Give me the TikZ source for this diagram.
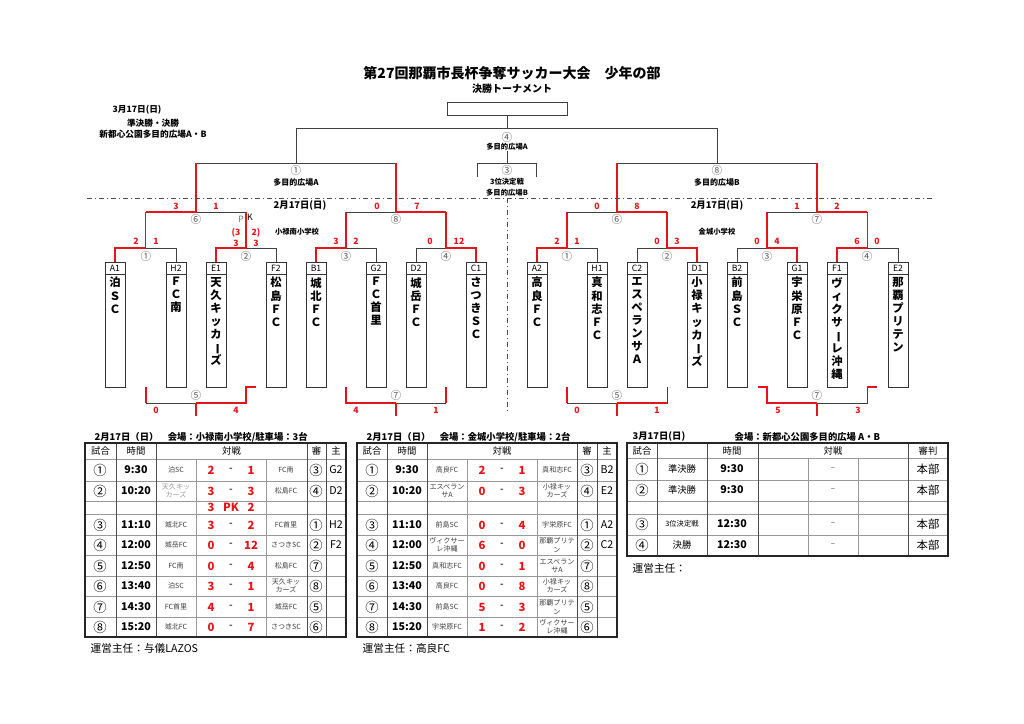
\documentclass[tikz,border=0pt]{standalone}
\usepackage{fontspec}
\setmainfont{Noto Sans CJK JP}
\definecolor{myred}{RGB}{228,20,28}
\newcommand\vb{\rotatebox[origin=c]{-90}{ー}}
\newcommand\fs[1]{\fontsize{#1}{#1}\selectfont}
\begin{document}
\begin{tikzpicture}[x=0.75pt,y=-0.75pt,
  bl/.style={line width=0.7pt,black!75},
  rd/.style={line width=1.3pt,myred},
  tbox/.style={draw,line width=0.6pt,black!80,minimum width=15pt,minimum height=93.75pt,inner sep=0,anchor=north},
  vtxt/.style={font=\fontsize{8.5}{9.8}\selectfont\bfseries,align=center,inner sep=0,anchor=north},
  lab/.style={font=\fs{6.5},inner sep=0},
  cir/.style={font=\fs{8},text=black!65,inner sep=0},
  sc/.style={font=\fs{6.5}\bfseries,text=myred,inner sep=0},
  note/.style={font=\fs{6.5}\bfseries,inner sep=0},
  tsm/.style={font=\fontsize{5.3}{6.2}\selectfont,text=black!75,align=center,inner sep=0},
  tnum/.style={font=\fs{10},inner sep=0},
  ttime/.style={font=\fs{8}\bfseries,inner sep=0},
  tsc/.style={font=\fs{8.5}\bfseries,text=myred,inner sep=0},
  thd/.style={font=\fs{7},inner sep=0},
  grid/.style={line width=0.4pt,black!40},
  outer/.style={line width=0.9pt,black!85}]
\useasboundingbox (0,0) rectangle (1024,724);
% titles
\node[font=\fs{10.5}\bfseries] (title) at (512,73) {第27回那覇市長杯争奪サッカー大会\quad 少年の部};
\node[font=\fs{7.5}\bfseries] (sub) at (512,89) {決勝トーナメント};
\node[note] (n1) at (137,110) {3月17日(日)};
\node[note] (n2) at (153,123) {準決勝・決勝};
\node[note] (n3) at (153,134) {新都心公園多目的広場A・B};
% teams
\newcommand\tm[4]{%
 \node[tbox] (#1) at (#2,262) {};
 \draw[line width=0.6pt,black!80] ([yshift=-9pt]#1.north west) -- ([yshift=-9pt]#1.north east);
 \node[lab] at (#2,268) {#3};
 \node[vtxt] at (#2,277) {#4};}
\tm{tA1}{115}{A1}{泊\\Ｓ\\Ｃ}
\tm{tH2}{176}{H2}{Ｆ\\Ｃ\\南}
\tm{tE1}{216}{E1}{天\\久\\キ\\ッ\\カ\\\vb\\ズ}
\tm{tF2}{276}{F2}{松\\島\\Ｆ\\Ｃ}
\tm{tB1}{316}{B1}{城\\北\\Ｆ\\Ｃ}
\tm{tG2}{376}{G2}{Ｆ\\Ｃ\\首\\里}
\tm{tD2}{416}{D2}{城\\岳\\Ｆ\\Ｃ}
\tm{tC1}{476}{C1}{さ\\つ\\き\\Ｓ\\Ｃ}
\tm{tA2}{537}{A2}{高\\良\\Ｆ\\Ｃ}
\tm{tH1}{597}{H1}{真\\和\\志\\Ｆ\\Ｃ}
\tm{tC2}{637}{C2}{エ\\ス\\ペ\\ラ\\ン\\サ\\Ａ}
\tm{tD1}{697}{D1}{小\\禄\\キ\\ッ\\カ\\\vb\\ズ}
\tm{tB2}{737}{B2}{前\\島\\Ｓ\\Ｃ}
\tm{tG1}{797}{G1}{宇\\栄\\原\\Ｆ\\Ｃ}
\tm{tF1}{837}{F1}{ヴ\\ィ\\ク\\サ\\\vb\\レ\\沖\\縄}
\tm{tE2}{898}{E2}{那\\覇\\プ\\リ\\テ\\ン}
% match macros: xl xr y yb ynext
\newcommand\mL[5]{%
 \draw[bl] (#2,#4)--(#2,#3)--({(#1+#2)/2},#3);
 \draw[rd] (#1,#4)--(#1,#3)--({(#1+#2)/2},#3)--({(#1+#2)/2},#5);}
\newcommand\mR[5]{%
 \draw[bl] (#1,#4)--(#1,#3)--({(#1+#2)/2},#3);
 \draw[rd] (#2,#4)--(#2,#3)--({(#1+#2)/2},#3)--({(#1+#2)/2},#5);}
% round 1
\mL{115}{176}{248}{262}{212}
\mL{216}{276}{248}{262}{212}
\mL{316}{376}{248}{262}{212}
\mR{416}{476}{248}{262}{212}
\mL{537}{597}{248}{262}{212}
\mR{637}{697}{248}{262}{212}
\mR{737}{797}{248}{262}{212}
\mL{837}{898}{248}{262}{212}
% round 2
\mL{146}{246}{212}{212}{163}
\mR{346}{446}{212}{212}{163}
\mR{567}{667}{212}{212}{163}
\mR{767}{867}{212}{212}{163}
% semis
\draw[bl] (196,163)--(396,163) (296,163)--(296,128);
\draw[bl] (617,163)--(817,163) (717,163)--(717,128);
\draw[rd] (196,212)--(196,163) (396,212)--(396,163) (617,212)--(617,163) (817,212)--(817,163);
% final
\node[draw,line width=0.7pt,black!75,minimum width=90pt,minimum height=9.75pt,inner sep=0] (fbox) at (507,108.5) {};
\draw[bl] (296,128)--(717,128) (fbox.south)--(507,128);
\node[cir] (f4) at (507,137) {④};
\node[font=\fs{5.5}\bfseries] at (507,147) {多目的広場A};
\draw[bl] (507,151)--(507,163) (477,177)--(477,163)--(536,163)--(536,177);
\node[cir] (f3) at (507,170) {③};
\node[font=\fs{5.5}\bfseries] at (507,182) {3位決定戦};
\node[font=\fs{5.5}\bfseries] at (507,193) {多目的広場B};
% semi labels
\node[cir] at (296,170) {①};
\node[font=\fs{6}\bfseries] at (296,182) {多目的広場A};
\node[cir] at (717,170) {⑧};
\node[font=\fs{6}\bfseries] at (717,182) {多目的広場B};
% dash-dot
\draw[line width=0.6pt,black!70,dash pattern=on 4pt off 2pt on 1pt off 2pt] (87,198)--(935,198);
\draw[line width=0.6pt,black!70,dash pattern=on 4pt off 2pt on 1pt off 2pt] (507,198)--(507,412);
\node[font=\fs{7}\bfseries] at (300,206) {2月17日(日)};
\node[font=\fs{7}\bfseries] at (717,206) {2月17日(日)};
\node[font=\fs{5.5}\bfseries] at (297,232) {小禄南小学校};
\node[font=\fs{5.5}\bfseries] at (717,232) {金城小学校};
% circled labels
\foreach \x/\c in {146/①,246/②,346/③,446/④,567/①,667/②,767/③,867/④}{\node[cir] at (\x,256) {\c};}
\foreach \x/\c in {196/⑥,396/⑧,617/⑥,817/⑦}{\node[cir] at (\x,219) {\c};}
% scores
\foreach \x/\s in {136/2,156/1,336/3,356/2,430/0,459/12,557/2,577/1,657/0,677/3,757/0,777/4,857/6,877/0}{\node[sc] at (\x,241) {\s};}
\foreach \x/\s in {236/3,256/3}{\node[sc] at (\x,243) {\s};}
\node[sc] at (236,233) {(3}; \node[sc] at (256,233) {2)};
\node[font=\fs{6.5},text=black!55,inner sep=0] at (241,219) {P};
\node[font=\fs{6.5},inner sep=0] at (250,217) {K};
\foreach \x/\s in {176/3,216/1,377/0,417/7,597/0,637/8,797/1,837/2}{\node[sc] at (\x,206) {\s};}
% lower brackets
\draw[bl] (196,403)--(146,403) (617,403)--(567,403) (667,387)--(667,403)--(617,403);
\draw[bl] (396,403)--(446,403) (817,403)--(867,403)--(867,387);
\draw[rd] (146,387)--(146,403) (196,403)--(246,403)--(246,387)--(256,387) (196,403)--(196,416);
\draw[rd] (346,387)--(346,403)--(396,403) (446,387)--(446,403) (396,403)--(396,416);
\draw[rd] (567,387)--(567,403) (617,403)--(667,403) (617,403)--(617,416);
\draw[rd] (758,387)--(767,387)--(767,403)--(817,403) (867,387)--(877,387) (817,403)--(817,416);
\foreach \x/\c in {196/⑤,396/⑦,617/⑤,817/⑦}{\node[cir] at (\x,395) {\c};}
\foreach \x/\s in {156/0,236/4,356/4,436/1,577/0,657/1,778/5,858/3}{\node[sc] at (\x,410) {\s};}
% ---------- tables 1 & 2 ----------
\newcommand\tgrid[8]{% x0..x7
 \foreach \y in {459,481,501,514,535,555,576,596,617}{\draw[grid] (#1,\y)--(#8,\y);}
 \foreach \x in {#2,#3,#6,#7}{\draw[line width=0.5pt,black!70] (\x,443)--(\x,637);}
 \draw[grid] (#4,459)--(#4,637) (#5,459)--(#5,637);
 \draw[outer] (#1,443) rectangle (#8,637);
 \node[thd] at ({(#1+#2)/2},451) {試合};
 \node[thd] at ({(#2+#3)/2},451) {時間};
 \node[thd] at ({(#3+#6)/2},451) {対戦};
 \node[thd] at ({(#6+#7)/2},451) {審};
 \node[thd] at ({(#7+#8)/2},451) {主};}
\newcommand\trow[9]{% y num time tl sl sr tr ref main
 \node[tnum] at (\ca,#1) {#2};
 \node[ttime] at (\cb,#1) {#3};
 \node[tsm] at (\cc,#1) {#4};
 \node[tsc] at (\cd,#1) {#5};
 \node[font=\fs{7}\bfseries,text=black!70,inner sep=0] at (\ce,#1) {-};
 \node[tsc] at (\cf,#1) {#6};
 \node[tsm] at (\cg,#1) {#7};
 \node[tnum] at (\ch,#1) {#8};
 \node[font=\fs{8},inner sep=0] at (\cj,#1) {#9};}
% table 1
\node[font=\fs{7}\bfseries,anchor=west] at (90,437) {2月17日（日）\quad 会場：小禄南小学校/駐車場：3台};
\tgrid{85}{116}{156}{196}{266}{307}{326}{346}
\def\ca{100}\def\cb{136}\def\cc{176}\def\cd{211}\def\ce{231}\def\cf{251}\def\cg{286}\def\ch{316}\def\cj{336}
\trow{470}{①}{9:30}{泊SC}{2}{1}{FC南}{③}{G2}
\trow{491}{②}{10:20}{}{3}{3}{松島FC}{④}{D2}
\node[tsm,text=black!40] at (176,491) {天久キッ\\カーズ};
\node[tsc] at (211,507.5) {3}; \node[tsc] at (231,507.5) {PK}; \node[tsc] at (251,507.5) {2};
\trow{525}{③}{11:10}{城北FC}{3}{2}{FC首里}{①}{H2}
\trow{545}{④}{12:00}{城岳FC}{0}{12}{さつきSC}{②}{F2}
\trow{566}{⑤}{12:50}{FC南}{0}{4}{松島FC}{⑦}{}
\trow{586}{⑥}{13:40}{泊SC}{3}{1}{天久キッ\\カーズ}{⑧}{}
\trow{607}{⑦}{14:30}{FC首里}{4}{1}{城岳FC}{⑤}{}
\trow{627}{⑧}{15:20}{城北FC}{0}{7}{さつきSC}{⑥}{}
\node[font=\fs{8},anchor=west] at (86,648) {運営主任：与儀LAZOS};
% table 2
\node[font=\fs{7}\bfseries,anchor=west] at (362,437) {2月17日（日）\quad 会場：金城小学校/駐車場：2台};
\tgrid{357}{387}{427}{467}{537}{577}{597}{617}
\def\ca{372}\def\cb{407}\def\cc{447}\def\cd{482}\def\ce{502}\def\cf{522}\def\cg{557}\def\ch{587}\def\cj{607}
\trow{470}{①}{9:30}{高良FC}{2}{1}{真和志FC}{③}{B2}
\trow{491}{②}{10:20}{エスペラン\\サA}{0}{3}{小禄キッ\\カーズ}{④}{E2}
\trow{525}{③}{11:10}{前島SC}{0}{4}{宇栄原FC}{①}{A2}
\trow{545}{④}{12:00}{ヴィクサー\\レ沖縄}{6}{0}{那覇プリテ\\ン}{②}{C2}
\trow{566}{⑤}{12:50}{真和志FC}{0}{1}{エスペラン\\サA}{⑦}{}
\trow{586}{⑥}{13:40}{高良FC}{0}{8}{小禄キッ\\カーズ}{⑧}{}
\trow{607}{⑦}{14:30}{前島SC}{5}{3}{那覇プリテ\\ン}{⑤}{}
\trow{627}{⑧}{15:20}{宇栄原FC}{1}{2}{ヴィクサー\\レ沖縄}{⑥}{}
\node[font=\fs{8},anchor=west] at (358,648) {運営主任：高良FC};
% table 3
\node[font=\fs{7}\bfseries,anchor=west] at (628,437) {3月17日(日)};
\node[font=\fs{7}\bfseries,anchor=west] at (730,437) {会場：新都心公園多目的広場 A・B};
\foreach \y in {458,480,501,514,535}{\draw[grid] (627,\y)--(948,\y);}
\foreach \x in {657,707,758,908}{\draw[line width=0.5pt,black!70] (\x,443)--(\x,556);}
\draw[grid] (808,458)--(808,556) (858,458)--(858,556);
\draw[outer] (627,443) rectangle (948,556);
\node[thd] at (642,451) {試合};
\node[thd] at (732,451) {時間};
\node[thd] at (833,451) {対戦};
\node[thd] at (928,451) {審判};
\foreach \y/\n/\k/\t in {469/①/準決勝/9:30,490/②/準決勝/9:30,545/④/決勝/12:30}{
 \node[tnum] at (642,\y) {\n};
 \node[font=\fs{7},inner sep=0] at (682,\y) {\k};
 \node[ttime] at (732,\y) {\t};
 \node[font=\fs{6},text=black!70,inner sep=0] at (833,\y) {–};
 \node[font=\fs{8.5},inner sep=0] at (928,\y) {本部};}
\node[tnum] at (642,524) {③};
\node[font=\fs{5.5},inner sep=0] at (682,524) {3位決定戦};
\node[ttime] at (732,524) {12:30};
\node[font=\fs{6},text=black!70,inner sep=0] at (833,524) {–};
\node[font=\fs{8.5},inner sep=0] at (928,524) {本部};
\node[font=\fs{8},anchor=west] at (628,568) {運営主任：};
\end{tikzpicture}
\end{document}
